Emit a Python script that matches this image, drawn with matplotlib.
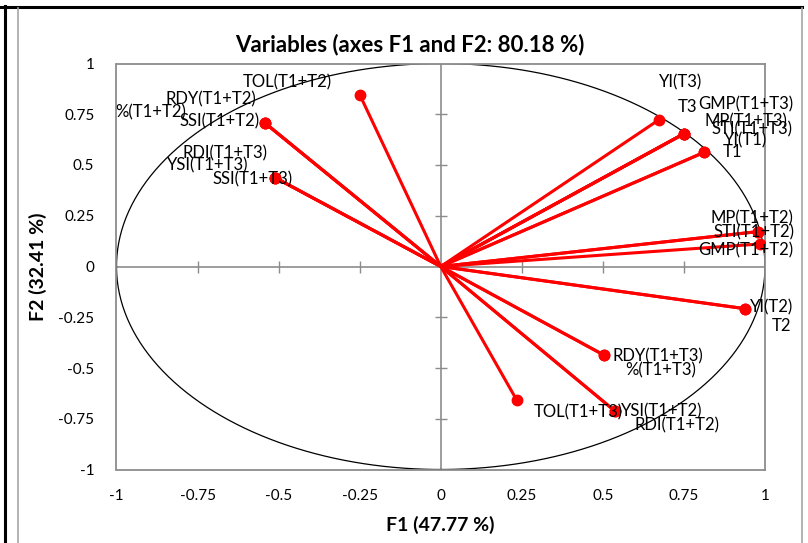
import numpy as np
import matplotlib
matplotlib.use("Agg")
import matplotlib.pyplot as plt
from matplotlib.lines import Line2D

plt.rcParams['font.family'] = ['Lato', 'DejaVu Sans']

# ---- data ----
variables = ["TOL(T1+T2)", "RDY(T1+T2)", "%(T1+T2)", "SSI(T1+T2)",
             "RDI(T1+T3)", "YSI(T1+T3)", "SSI(T1+T3)",
             "YI(T3)", "T3", "GMP(T1+T3)", "MP(T1+T3)", "STI(T1+T3)",
             "YI(T1)", "T1",
             "MP(T1+T2)", "STI(T1+T2)", "GMP(T1+T2)",
             "YI(T2)", "T2",
             "RDY(T1+T3)", "%(T1+T3)", "TOL(T1+T3)",
             "YSI(T1+T2)", "RDI(T1+T2)"]
f1 = [-0.250, -0.543, -0.543, -0.543,
      -0.510, -0.510, -0.510,
      0.674, 0.750, 0.750, 0.750, 0.750,
      0.813, 0.813,
      0.979, 0.979, 0.985,
      0.939, 0.939,
      0.505, 0.505, 0.235,
      0.538, 0.538]
f2 = [0.847, 0.708, 0.708, 0.708,
      0.437, 0.437, 0.437,
      0.724, 0.654, 0.654, 0.654, 0.654,
      0.563, 0.563,
      0.172, 0.172, 0.111,
      -0.208, -0.208,
      -0.438, -0.438, -0.660,
      -0.713, -0.713]
ticks = [-1, -0.75, -0.5, -0.25, 0, 0.25, 0.5, 0.75, 1]
tick_labels = ["-1", "-0.75", "-0.5", "-0.25", "0", "0.25", "0.5", "0.75", "1"]
title = "Variables (axes F1 and F2: 80.18 %)"
xlabel = "F1 (47.77 %)"
ylabel = "F2 (32.41 %)"

# label offsets in pixels (layout only)
label_offsets = [(-72, 12), (-54, 23), (-114, 10), (-45, 1),
                 (-50, 24), (-68, 12), (-23, -2),
                 (21, 37), (4, 27), (62, 29), (62, 12), (68, 4),
                 (41, 12), (28, 0),
                 (-6, 13), (-4, -1), (-14, -6),
                 (26, 1), (36, -17),
                 (53, -1), (56, -15), (61, -12),
                 (47, 0), (62, -14)]

W, H = 808, 543
fig = plt.figure(figsize=(W / 100, H / 100), dpi=100)

# decorative frame lines of the original page
fig.add_artist(Line2D([0, 802 / W], [1 - 7 / H, 1 - 7 / H], color='black', lw=2.2, transform=fig.transFigure))
fig.add_artist(Line2D([4.5 / W, 4.5 / W], [0, 1 - 6 / H], color='black', lw=2.2, transform=fig.transFigure))
fig.add_artist(Line2D([17.5 / W, 17.5 / W], [0, 1 - 8 / H], color='#a6a6a6', lw=1.2, transform=fig.transFigure))
fig.add_artist(Line2D([802 / W, 802 / W], [0, 1 - 8 / H], color='#a6a6a6', lw=1.2, transform=fig.transFigure))

L, R, T, B = 116.5, 765, 63.5, 469.5
ax = fig.add_axes([L / W, 1 - B / H, (R - L) / W, (B - T) / H])
ax.set_xlim(-1, 1)
ax.set_ylim(-1, 1)
for s in ax.spines.values():
    s.set_color('#8c8c8c')
    s.set_linewidth(1.3)

ax.set_xticks(ticks)
ax.set_yticks(ticks)
ax.set_xticklabels(tick_labels)
ax.set_yticklabels(tick_labels)
ax.tick_params(length=0, labelsize=11, colors='black', pad=14)
ax.tick_params(axis='y', pad=16)

# zero lines with crossing ticks
ax.axhline(0, color='#8c8c8c', lw=1.2, zorder=1)
ax.axvline(0, color='#8c8c8c', lw=1.2, zorder=1)
minor = [t for t in ticks if t not in (-1, 0, 1)]
ax.plot(minor, [0] * len(minor), linestyle='none', marker='|', markersize=9,
        color='#8c8c8c', markeredgewidth=1.0, zorder=1)
ax.plot([0] * len(minor), minor, linestyle='none', marker='_', markersize=9,
        color='#8c8c8c', markeredgewidth=1.0, zorder=1)

# correlation circle
theta = np.linspace(0, 2 * np.pi, 400)
ax.plot(np.cos(theta), np.sin(theta), color='black', lw=0.9, zorder=2)

# vectors
for x, y in zip(f1, f2):
    ax.plot([0, x], [0, y], color='#ff0000', lw=2.2, solid_capstyle='butt', zorder=3)
ax.plot(f1, f2, linestyle='none', marker='o', markersize=7.5, color='#ff0000', zorder=4)

for name, x, y, (dx, dy) in zip(variables, f1, f2, label_offsets):
    ax.annotate(name, (x, y), xytext=(dx, dy), textcoords='offset pixels',
                ha='center', va='center', fontsize=12, color='black', zorder=5)

fig.text(410 / W, 1 - 45 / H, title, fontsize=16, fontweight='bold',
         ha='center', va='center')
ax.set_xlabel(xlabel, fontsize=14, fontweight='bold', labelpad=9)
ax.set_ylabel(ylabel, fontsize=14, fontweight='bold', labelpad=8)

fig.savefig('out.png', dpi=100)
